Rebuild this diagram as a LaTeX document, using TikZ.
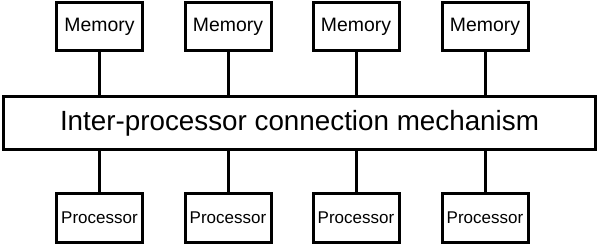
\documentclass[tikz,border=0pt]{standalone}
\usepackage{fontspec}
\setmainfont{Liberation Sans}
\usetikzlibrary{positioning}
\tikzset{
  membox/.style={rectangle, minimum width=86pt, minimum height=48pt,
    draw=black, line width=3pt, fill=white, inner sep=0pt, font=\fontsize{19.4}{22}\selectfont},
  procbox/.style={rectangle, minimum width=86pt, minimum height=49pt,
    draw=black, line width=3pt, fill=white, inner sep=0pt, font=\fontsize{17}{20}\selectfont},
  busbox/.style={rectangle, minimum width=592pt, minimum height=53pt,
    draw=black, line width=3pt, fill=white, inner sep=0pt, font=\fontsize{27.8}{30}\selectfont},
  link/.style={line width=3pt}
}
\begin{document}
\begin{tikzpicture}[x=1pt, y=1pt]
\useasboundingbox (0,0) rectangle (600,245);
\node (bus)   [busbox]  at (299.5,122) {Inter-processor connection mechanism};
\node (mem1)  [membox]  at (99.5,218.5) {Memory};
\node (mem2)  [membox]  at (228,218.5)  {Memory};
\node (mem3)  [membox]  at (356,218.5)  {Memory};
\node (mem4)  [membox]  at (485,218.5)  {Memory};
\node (proc1) [procbox] at (99.5,27)    {Processor};
\node (proc2) [procbox] at (228,27)     {Processor};
\node (proc3) [procbox] at (356,27)     {Processor};
\node (proc4) [procbox] at (485,27)     {Processor};

\draw [link] (mem1)  -- (mem1 |- bus.north);
\draw [link] (mem2)  -- (mem2 |- bus.north);
\draw [link] (mem3)  -- (mem3 |- bus.north);
\draw [link] (mem4)  -- (mem4 |- bus.north);
\draw [link] (proc1) -- (proc1 |- bus.south);
\draw [link] (proc2) -- (proc2 |- bus.south);
\draw [link] (proc3) -- (proc3 |- bus.south);
\draw [link] (proc4) -- (proc4 |- bus.south);
\end{tikzpicture}
\end{document}
